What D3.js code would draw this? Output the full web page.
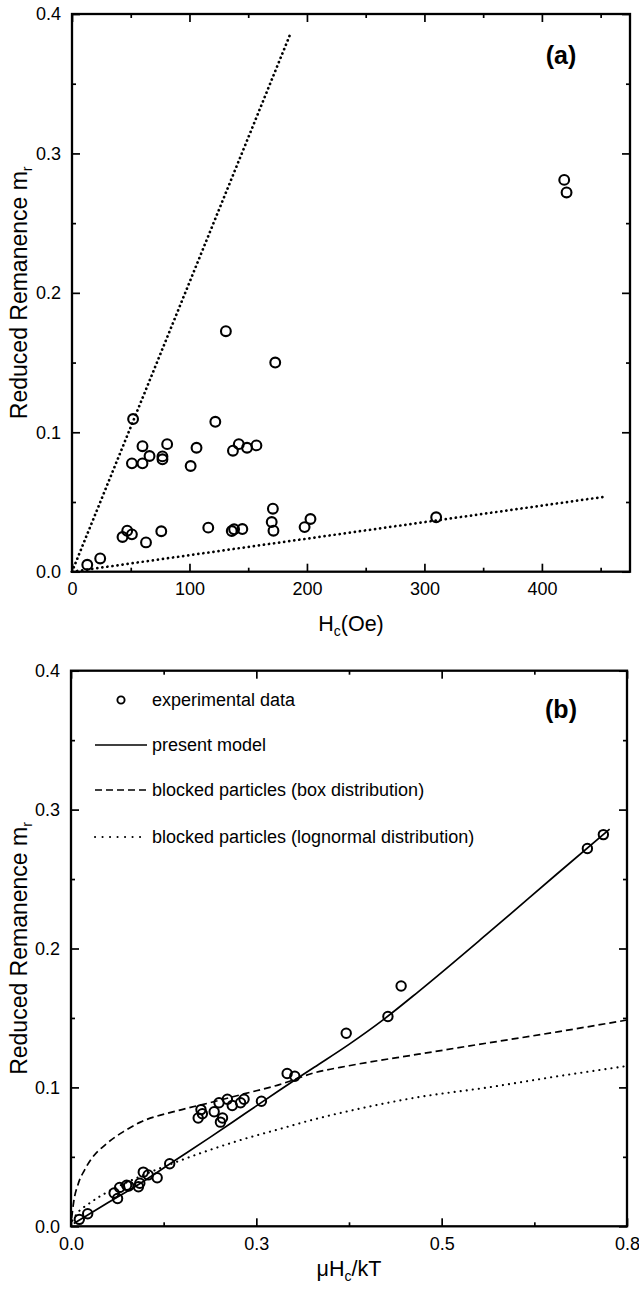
<!DOCTYPE html>
<html><head><meta charset="utf-8">
<script src="https://cdn.jsdelivr.net/npm/d3@7/dist/d3.min.js"></script>
<style>
body{margin:0;background:#fff;}
svg{display:block;font-family:"Liberation Sans",Arial,Helvetica,sans-serif;}
</style></head>
<body>
<svg id="chart" width="639" height="1298"></svg>
<script>
// ---------- Panel (a) data ----------
const hcA = [13,24,52,131,173,122,51,60,60,66,77,77,81,101,106,137,142,149,157,
             43,47,51,63,76,116,136,138,145,171,170,171.5,198,203,310,419,421];
const mrA = [0.005,0.0095,0.1095,0.1725,0.150,0.1075,0.0777,0.0777,0.090,0.083,0.0806,0.0827,0.0915,0.0758,0.0889,0.0868,0.0915,0.0889,0.0906,
             0.0249,0.0294,0.0268,0.021,0.029,0.0316,0.0292,0.0304,0.0306,0.0452,0.0356,0.0294,0.032,0.0378,0.0390,0.281,0.272];
const steepHc = [0, 186];
const steepMr = [0, 0.386];
const shallowHc = [0, 453];
const shallowMr = [0, 0.0537];
const xTicksA = [0,100,200,300,400];
const xMinorA = [50,150,250,350,450];
const yTicks = [0,0.1,0.2,0.3,0.4];
const yMinor = [0.05,0.15,0.25,0.35];
const yTickLabels = ["0.0","0.1","0.2","0.3","0.4"];

// ---------- Panel (b) data ----------
const vB  = [0.012,0.024,0.062,0.067,0.070,0.080,0.083,0.097,0.099,0.104,0.111,0.124,0.142,
             0.183,0.187,0.189,0.206,0.213,0.215,0.218,0.225,0.232,0.244,0.249,0.274,0.311,0.322,
             0.396,0.456,0.475,0.743,0.766];
const mrB = [0.005,0.009,0.024,0.020,0.028,0.0295,0.029,0.0285,0.031,0.039,0.037,0.035,0.045,
             0.078,0.084,0.081,0.0825,0.089,0.075,0.078,0.0915,0.087,0.089,0.0915,0.090,0.110,0.108,
             0.139,0.151,0.173,0.272,0.282];
const modelV  = [0.004,0.05,0.1,0.15,0.2,0.25,0.3,0.35,0.4,0.45,0.5,0.6,0.7,0.775];
const modelMr = [0.002,0.016,0.031,0.0475,0.064,0.081,0.098,0.1145,0.131,0.149,0.169,0.211,0.254,0.286];
const boxV  = [0.001,0.004,0.01,0.02,0.03,0.05,0.075,0.1,0.15,0.2,0.25,0.3,0.35,0.4,0.5,0.6,0.7,0.8];
const boxMr = [0.006,0.018,0.030,0.041,0.049,0.059,0.068,0.075,0.0828,0.089,0.0955,0.102,0.1105,0.1156,0.1239,0.132,0.140,0.1485];
const logV  = [0.002,0.01,0.025,0.05,0.1,0.15,0.2,0.25,0.3,0.35,0.4,0.5,0.6,0.7,0.8];
const logMr = [0.004,0.010,0.016,0.024,0.036,0.046,0.055,0.063,0.070,0.077,0.083,0.093,0.100,0.108,0.1154];
const xTicksB = [0, 0.8/3, 1.6/3, 0.8];
const xTickLabelsB = ["0.0","0.3","0.5","0.8"];
const xMinorB = [0.4/3, 1.2/3, 2.0/3];
const legendLabels = ["experimental data","present model","blocked particles (box distribution)","blocked particles (lognormal distribution)"];

const svg = d3.select("#chart");
const TICK_FS = 18, XLABEL_FS = 21.5, YLABEL_FS = 23;

function frame(g, x, y, xTicks, xLabels, xMinor) {
  const [x0,x1] = x.range(), [y0,y1] = y.range();
  const addAxis = (axis, tr) => {
    const a = g.append("g").attr("transform", tr).call(axis);
    a.select(".domain").remove();
    a.selectAll("line").attr("stroke","#000").attr("stroke-width",1.7);
    a.selectAll("text").attr("font-size",TICK_FS).attr("fill","#000").attr("font-family","Liberation Sans, Arial, sans-serif");
    return a;
  };
  addAxis(d3.axisBottom(x).tickValues(xTicks).tickSizeInner(-8).tickSizeOuter(0).tickPadding(11)
      .tickFormat((d,i)=>xLabels[i]), `translate(0,${y0})`);
  addAxis(d3.axisBottom(x).tickValues(xMinor).tickSizeInner(-4).tickSizeOuter(0).tickFormat(""), `translate(0,${y0})`);
  addAxis(d3.axisTop(x).tickValues(xTicks).tickSizeInner(-8).tickSizeOuter(0).tickFormat(""), `translate(0,${y1})`);
  addAxis(d3.axisTop(x).tickValues(xMinor).tickSizeInner(-4).tickSizeOuter(0).tickFormat(""), `translate(0,${y1})`);
  addAxis(d3.axisLeft(y).tickValues(yTicks).tickSizeInner(-8).tickSizeOuter(0).tickPadding(11)
      .tickFormat((d,i)=>yTickLabels[i]), `translate(${x0},0)`);
  addAxis(d3.axisLeft(y).tickValues(yMinor).tickSizeInner(-4).tickSizeOuter(0).tickFormat(""), `translate(${x0},0)`);
  addAxis(d3.axisRight(y).tickValues(yTicks).tickSizeInner(-8).tickSizeOuter(0).tickFormat(""), `translate(${x1},0)`);
  addAxis(d3.axisRight(y).tickValues(yMinor).tickSizeInner(-4).tickSizeOuter(0).tickFormat(""), `translate(${x1},0)`);
  g.append("rect").attr("x",x0).attr("y",y1).attr("width",x1-x0).attr("height",y0-y1)
    .attr("fill","none").attr("stroke","#000").attr("stroke-width",2.3);
}

function yLabel(g, cx, cy) {
  const t = g.append("text").attr("transform",`translate(${cx},${cy}) rotate(-90)`)
    .attr("text-anchor","middle").attr("font-size",YLABEL_FS).attr("fill","#000");
  t.append("tspan").text("Reduced Remanence m");
  t.append("tspan").attr("font-size",14).attr("dy",5).text("r");
}

// ---------- Panel (a) ----------
const xA = d3.scaleLinear().domain([0,475]).range([72,630]);
const yA = d3.scaleLinear().domain([0,0.4]).range([571.7,14]);
const gA = svg.append("g");
const lineA = d3.line().x(d=>xA(d[0])).y(d=>yA(d[1]));
gA.append("path").datum(d3.zip(steepHc,steepMr)).attr("d",lineA)
  .attr("fill","none").attr("stroke","#000").attr("stroke-width",2.7)
  .attr("stroke-linecap","round").attr("stroke-dasharray","0.1,4.6");
gA.append("path").datum(d3.zip(shallowHc,shallowMr)).attr("d",lineA)
  .attr("fill","none").attr("stroke","#000").attr("stroke-width",2.7)
  .attr("stroke-linecap","round").attr("stroke-dasharray","0.1,5");
gA.selectAll("circle.pt").data(d3.zip(hcA,mrA)).join("circle").attr("class","pt")
  .attr("cx",d=>xA(d[0])).attr("cy",d=>yA(d[1])).attr("r",4.9)
  .attr("fill","none").attr("stroke","#000").attr("stroke-width",2.1);
frame(gA, xA, yA, xTicksA, xTicksA.map(String), xMinorA);
yLabel(gA, 27, 292.8);
{
  const t = gA.append("text").attr("x",351).attr("y",631).attr("text-anchor","middle")
    .attr("font-size",XLABEL_FS).attr("fill","#000");
  t.append("tspan").text("H");
  t.append("tspan").attr("font-size",14).attr("dy",5).text("c");
  t.append("tspan").attr("dy",-5).text("(Oe)");
}
gA.append("text").attr("x",561).attr("y",64).attr("text-anchor","middle")
  .attr("font-size",25).attr("font-weight","bold").attr("fill","#000").text("(a)");

// ---------- Panel (b) ----------
const xB = d3.scaleLinear().domain([0,0.8]).range([71,627]);
const yB = d3.scaleLinear().domain([0,0.4]).range([1226.3,670.7]);
const gB = svg.append("g");
const curveB = d3.line().x(d=>xB(d[0])).y(d=>yB(d[1])).curve(d3.curveMonotoneX);
gB.append("path").datum(d3.zip(boxV,boxMr)).attr("d",curveB)
  .attr("fill","none").attr("stroke","#000").attr("stroke-width",1.7).attr("stroke-dasharray","7,4");
gB.append("path").datum(d3.zip(logV,logMr)).attr("d",curveB)
  .attr("fill","none").attr("stroke","#000").attr("stroke-width",2.1)
  .attr("stroke-linecap","round").attr("stroke-dasharray","0.1,6");
gB.append("path").datum(d3.zip(modelV,modelMr)).attr("d",curveB)
  .attr("fill","none").attr("stroke","#000").attr("stroke-width",1.7);
gB.selectAll("circle.pt").data(d3.zip(vB,mrB)).join("circle").attr("class","pt")
  .attr("cx",d=>xB(d[0])).attr("cy",d=>yB(d[1])).attr("r",4.7)
  .attr("fill","none").attr("stroke","#000").attr("stroke-width",2);
frame(gB, xB, yB, xTicksB, xTickLabelsB, xMinorB);
yLabel(gB, 27, 948.5);
{
  const t = gB.append("text").attr("x",349).attr("y",1276).attr("text-anchor","middle")
    .attr("font-size",XLABEL_FS).attr("fill","#000");
  t.append("tspan").text("\u03BCH");
  t.append("tspan").attr("font-size",14).attr("dy",5).text("c");
  t.append("tspan").attr("dy",-5).text("/kT");
}
gB.append("text").attr("x",561).attr("y",718).attr("text-anchor","middle")
  .attr("font-size",25).attr("font-weight","bold").attr("fill","#000").text("(b)");

// legend
const legY = [700,745,790,837];
const lg = gB.append("g");
lg.append("circle").attr("cx",121).attr("cy",legY[0]).attr("r",3.6)
  .attr("fill","none").attr("stroke","#000").attr("stroke-width",1.9);
lg.append("line").attr("x1",95).attr("x2",147).attr("y1",legY[1]).attr("y2",legY[1])
  .attr("stroke","#000").attr("stroke-width",1.7);
lg.append("line").attr("x1",95).attr("x2",147).attr("y1",legY[2]).attr("y2",legY[2])
  .attr("stroke","#000").attr("stroke-width",1.7).attr("stroke-dasharray","7,4");
lg.append("line").attr("x1",95).attr("x2",147).attr("y1",legY[3]).attr("y2",legY[3])
  .attr("stroke","#000").attr("stroke-width",2).attr("stroke-linecap","round").attr("stroke-dasharray","0.1,7.4");
lg.selectAll("text").data(legendLabels).join("text")
  .attr("x",152).attr("y",(d,i)=>legY[i]).attr("dy","0.35em")
  .attr("font-size",18).attr("fill","#000").text(d=>d);
</script>
</body></html>
